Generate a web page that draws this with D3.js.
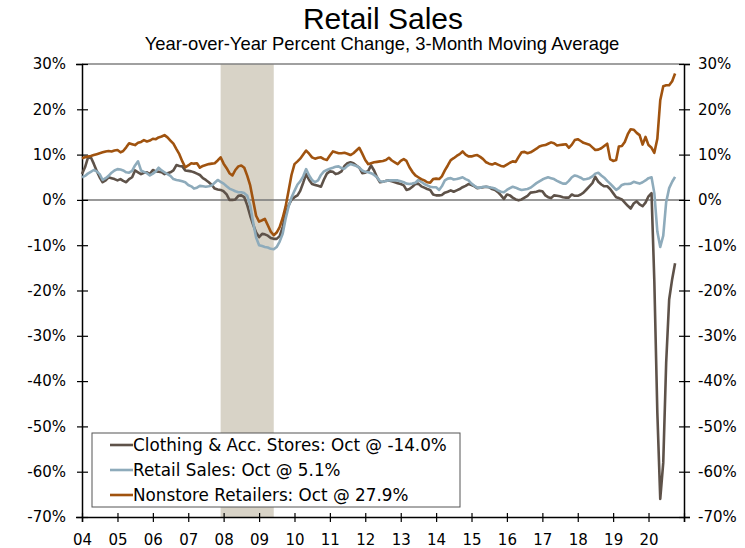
<!DOCTYPE html>
<html>
<head>
<meta charset="utf-8">
<script src="https://cdn.jsdelivr.net/npm/d3@7"></script>
<style>
  body { margin: 0; background: #fff; }
  svg { display: block; }
  text { font-family: "DejaVu Sans", Verdana, sans-serif; fill: #000; }
</style>
</head>
<body>
<script>
'use strict';

{
	// monthly 3-month moving averages, Jan 2004 .. Oct 2020
	let startYear = 2004;

	let clothing = [
		5.7, 7.2, 9.2, 9.4, 8.0, 6.4, 5.0, 3.9, 4.3, 5.0, 4.8, 4.6,   // 04
		4.3, 4.6, 4.2, 3.9, 4.6, 5.0, 6.5, 6.1, 5.7, 6.0, 6.1, 5.7,   // 05
		6.6, 6.3, 6.2, 6.1, 5.7, 5.9, 6.1, 6.5, 7.7, 7.5, 7.4, 6.5,   // 06
		6.4, 6.3, 6.1, 5.8, 5.5, 4.8, 4.4, 3.9, 3.3, 2.5, 2.3, 2.2,   // 07
		1.9, 1.2, 0.0, 0.0, 0.1, 0.9, 1.0, 0.6, -1.2, -3.5, -5.5, -7.2,   // 08
		-8.2, -7.5, -7.6, -7.9, -8.4, -8.6, -8.6, -8.0, -6.0, -3.1, -1.2, 0.0,   // 09
		0.6, 1.0, 2.0, 3.8, 5.7, 4.4, 3.5, 3.3, 3.1, 2.9, 4.5, 5.8,   // 10
		6.3, 6.2, 5.7, 5.9, 6.3, 7.5, 8.1, 8.3, 8.1, 7.6, 7.1, 5.9,   // 11
		6.0, 6.4, 7.6, 6.5, 5.0, 3.9, 4.0, 4.2, 4.3, 4.1, 3.9, 3.7,   // 12
		3.5, 3.2, 2.2, 2.4, 2.9, 3.5, 3.6, 3.0, 2.7, 2.4, 2.2, 1.2,   // 13
		1.0, 1.0, 1.1, 1.6, 1.8, 2.1, 1.8, 2.1, 2.4, 2.8, 3.1, 3.5,   // 14
		3.3, 3.0, 2.6, 2.7, 2.8, 2.9, 2.8, 2.4, 2.2, 1.7, 1.0, 0.2,   // 15
		1.2, 1.0, 0.5, 0.1, -0.1, 0.1, 0.5, 0.9, 1.6, 1.7, 1.8, 2.0,   // 16
		1.9, 1.0, 0.6, 0.4, 1.0, 0.9, 0.8, 0.6, 0.5, 0.5, 1.2, 0.9,   // 17
		0.9, 1.2, 1.6, 2.3, 3.0, 3.7, 5.1, 4.0, 3.4, 3.0, 3.0, 2.4,   // 18
		1.5, 0.6, 0.4, 0.1, -0.6, -1.3, -1.9, -0.8, -0.3, -1.0, -1.4, -0.6,   // 19
		0.8, 1.5, -18.0, -47.0, -66.0, -58.0, -36.0, -22.0, -17.5, -14.0   // 20
	];

	let retail = [
		5.0, 5.3, 5.8, 6.2, 6.6, 6.3, 5.7, 4.4, 4.8, 5.3, 6.0, 6.5,
		6.8, 6.7, 6.5, 6.1, 6.0, 6.4, 7.6, 8.5, 6.5, 6.2, 5.9, 5.4,
		5.8, 6.3, 7.1, 6.5, 6.1, 5.7, 5.3, 4.6, 4.4, 4.3, 4.1, 3.9,
		3.3, 3.0, 2.5, 2.7, 3.1, 3.0, 2.9, 3.0, 3.2, 3.8, 4.4, 4.0,
		3.6, 3.0, 2.5, 2.2, 1.9, 1.7, 1.7, 1.5, 0.9, -1.2, -5.0, -8.3,
		-10.0, -10.2, -10.4, -10.5, -10.8, -10.9, -10.4, -9.2, -7.5, -4.2, -1.5, 0.5,
		2.0, 3.4, 4.1, 5.2, 6.8, 5.4, 4.4, 3.9, 4.3, 5.5, 6.3, 6.6,
		6.9, 7.1, 7.3, 7.4, 7.0, 6.9, 7.5, 7.9, 7.7, 7.5, 7.1, 6.5,
		6.2, 6.1, 5.9, 5.5, 5.0, 4.1, 4.0, 4.2, 4.3, 4.3, 4.3, 4.3,
		4.1, 3.9, 3.6, 3.5, 3.6, 3.8, 4.4, 4.0, 3.5, 3.2, 2.9, 2.8,
		2.8, 2.2, 3.0, 4.3, 4.7, 4.8, 4.5, 4.6, 4.8, 5.0, 4.6, 4.3,
		3.6, 3.1, 2.7, 2.7, 2.9, 2.9, 2.8, 2.7, 2.5, 2.1, 1.8, 1.7,
		2.2, 2.6, 2.9, 2.7, 2.4, 2.2, 2.3, 2.4, 2.7, 3.2, 3.7, 4.1,
		4.5, 4.8, 5.0, 4.8, 4.6, 4.2, 3.9, 3.6, 3.6, 4.2, 5.0, 5.4,
		5.2, 4.9, 4.5, 4.6, 4.8, 5.2, 5.8, 6.0, 5.4, 4.9, 4.2, 3.6,
		2.9, 2.2, 2.6, 3.3, 3.5, 3.5, 3.6, 4.0, 3.8, 3.6, 3.9, 4.3,
		4.8, 5.0, 1.5, -7.0, -10.4, -7.9, -0.5, 2.6, 4.0, 5.1
	];

	let nonstore = [
		9.2, 9.4, 9.6, 9.7, 9.9, 10.1, 10.3, 10.5, 10.7, 10.8, 10.7, 10.9,
		11.0, 10.5, 10.8, 11.6, 12.5, 12.3, 12.1, 12.6, 12.8, 13.2, 12.9, 13.1,
		13.5, 13.4, 13.8, 14.0, 14.3, 13.8, 13.1, 12.4, 11.2, 10.1, 8.5, 7.2,
		7.6, 8.1, 8.0, 8.1, 7.1, 7.5, 7.7, 7.9, 8.0, 8.1, 8.7, 9.4,
		8.0, 7.0, 5.9, 5.4, 6.6, 7.4, 7.6, 7.1, 5.3, 3.2, -0.2, -3.5,
		-4.8, -4.5, -4.2, -5.6, -7.0, -7.8, -7.2, -6.0, -4.0, -1.5, 2.0, 5.5,
		7.9, 8.5, 9.1, 10.0, 10.9, 10.2, 9.4, 9.1, 9.3, 9.4, 9.0, 8.8,
		9.8, 10.7, 10.5, 10.3, 10.3, 10.4, 10.2, 9.9, 10.3, 10.9, 11.5, 10.2,
		8.8, 7.9, 8.1, 8.3, 8.4, 8.5, 8.6, 8.8, 9.3, 8.7, 8.3, 7.9,
		8.6, 9.0, 8.6, 7.2, 6.2, 5.4, 5.0, 4.6, 4.3, 3.9, 3.8, 4.6,
		4.7, 4.6, 5.2, 6.5, 7.6, 8.8, 9.2, 9.7, 10.1, 10.7, 10.0, 9.6,
		9.6, 9.8, 9.9, 9.5, 9.0, 8.3, 8.0, 7.8, 8.1, 7.8, 7.5, 7.4,
		7.8, 8.2, 8.5, 8.4, 9.5, 10.5, 10.6, 10.3, 10.5, 10.9, 11.3, 11.8,
		12.0, 12.1, 12.4, 12.7, 12.5, 12.0, 12.1, 12.2, 12.3, 11.5, 12.2, 13.2,
		13.4, 13.0, 12.6, 12.4, 12.2, 11.6, 11.0, 11.1, 11.4, 11.9, 12.4, 9.0,
		8.6, 8.8, 11.8, 11.9, 12.8, 14.5, 15.6, 15.5, 14.8, 14.3, 12.2, 13.9,
		12.1, 11.5, 10.4, 13.5, 22.0, 25.1, 25.3, 25.3, 26.2, 27.9
	];

	let seriesNames = [
		"Clothing & Acc. Stores: Oct @ -14.0%",
		"Retail Sales: Oct @ 5.1%",
		"Nonstore Retailers: Oct @ 27.9%"
	];
	let seriesColors = ["#5e5249", "#8eabbb", "#a0530f"];

	let recession = [new Date(2007, 11, 1), new Date(2009, 5, 1)];
	let yTicks = [30, 20, 10, 0, -10, -20, -30, -40, -50, -60, -70];
	let xYears = d3.range(2004, 2021);

	let width = 745, height = 548;
	let margin = {top: 64, right: 61, bottom: 31, left: 82};

	let svg = d3.select("body").append("svg")
		.attr("width", width)
		.attr("height", height);

	let x = d3.scaleTime()
		.domain([new Date(startYear, 0, 1), new Date(2021, 0, 1)])
		.range([margin.left, width - margin.right]);

	let y = d3.scaleLinear()
		.domain([-70, 30])
		.range([height - margin.bottom, margin.top]);

	let dateOf = i => new Date(startYear, i, 1);

	// title
	svg.append("text")
		.attr("x", 383).attr("y", 29)
		.attr("text-anchor", "middle")
		.style("font-family", "'Liberation Sans Narrow', 'Liberation Sans', sans-serif")
		.style("font-size", "30px")
		.text("Retail Sales");

	svg.append("text")
		.attr("x", 382).attr("y", 50)
		.attr("text-anchor", "middle")
		.style("font-family", "'Liberation Sans Narrow', 'Liberation Sans', sans-serif")
		.style("font-size", "18.4px")
		.text("Year-over-Year Percent Change, 3-Month Moving Average");

	// recession shade
	svg.append("rect")
		.attr("x", x(recession[0]))
		.attr("y", y(30))
		.attr("width", x(recession[1]) - x(recession[0]))
		.attr("height", y(-70) - y(30))
		.attr("fill", "#d8d3c7");

	// top frame + zero line
	svg.append("line")
		.attr("x1", x.range()[0]).attr("x2", x.range()[1])
		.attr("y1", y(30)).attr("y2", y(30))
		.attr("stroke", "#808080").attr("stroke-width", 1.5);

	svg.append("line")
		.attr("x1", x.range()[0]).attr("x2", x.range()[1])
		.attr("y1", y(0)).attr("y2", y(0))
		.attr("stroke", "#777").attr("stroke-width", 1.5);

	// y axes
	let yLeft = svg.append("g")
		.attr("transform", `translate(${x.range()[0]},0)`)
		.call(d3.axisLeft(y).tickValues(yTicks).tickFormat(d => d + "%").tickSize(6).tickPadding(10));
	let yRight = svg.append("g")
		.attr("transform", `translate(${x.range()[1]},0)`)
		.call(d3.axisRight(y).tickValues(yTicks).tickFormat(d => d + "%").tickSize(6).tickPadding(10));

	[yLeft, yRight].forEach(g => {
		g.select(".domain").attr("stroke", "#000").attr("stroke-width", 1.5);
		g.selectAll(".tick line").attr("x1", -5).attr("x2", 6).attr("stroke", "#000").attr("stroke-width", 1.2);
		g.selectAll(".tick text").style("font-size", "15px").style("font-family", "'DejaVu Sans', Verdana, sans-serif");
	});
	yLeft.selectAll(".tick text").attr("x", -16);
	yRight.selectAll(".tick text").attr("x", 14);

	// x axis
	let xAxis = svg.append("g")
		.attr("transform", `translate(0,${y(-70)})`)
		.call(d3.axisBottom(x)
			.tickValues(xYears.map(yr => new Date(yr, 0, 1)).concat([new Date(2021, 0, 1)]))
			.tickFormat(d => d.getFullYear() < 2021 ? d3.timeFormat("%y")(d) : "")
			.tickSize(5).tickPadding(12));
	xAxis.select(".domain").attr("stroke", "#000").attr("stroke-width", 1.5);
	xAxis.selectAll(".tick line").attr("y1", -4).attr("y2", 5).attr("stroke", "#000").attr("stroke-width", 1.2);
	xAxis.selectAll(".tick text").style("font-size", "15px").style("font-family", "'DejaVu Sans', Verdana, sans-serif");

	// lines
	let line = d3.line()
		.x((d, i) => x(dateOf(i)))
		.y(d => y(d));

	[clothing, retail, nonstore].forEach((s, k) => {
		svg.append("path")
			.datum(s)
			.attr("fill", "none")
			.attr("stroke", seriesColors[k])
			.attr("stroke-width", 2.6)
			.attr("stroke-linejoin", "round")
			.attr("d", line);
	});

	// legend
	let legend = svg.append("g").attr("transform", "translate(92,433)");
	legend.append("rect")
		.attr("width", 368).attr("height", 74)
		.attr("fill", "#fff")
		.attr("stroke", "#555").attr("stroke-width", 1);

	seriesNames.forEach((name, k) => {
		let row = legend.append("g").attr("transform", `translate(0,${12 + k * 25})`);
		row.append("line")
			.attr("x1", 18).attr("x2", 41)
			.attr("y1", 0).attr("y2", 0)
			.attr("stroke", seriesColors[k]).attr("stroke-width", 2.6);
		row.append("text")
			.attr("x", 41).attr("y", 0)
			.attr("dy", "0.36em")
			.style("font-size", "16.8px")
			.text(name);
	});
}
</script>
</body>
</html>
